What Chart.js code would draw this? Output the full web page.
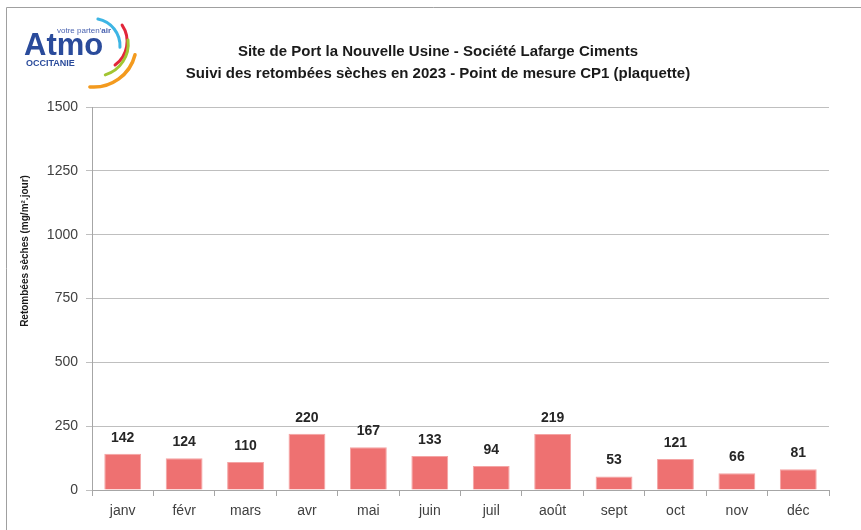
<!DOCTYPE html>
<html>
<head>
<meta charset="utf-8">
<script src="https://cdn.jsdelivr.net/npm/chart.js@4/dist/chart.umd.min.js"></script>
<style>
  html, body { margin: 0; padding: 0; background: #fff; }
  #wrap { width: 861px; height: 530px; }
</style>
</head>
<body>
<div id="wrap"><canvas id="chart"></canvas></div>
<script>
const months = ["janv", "févr", "mars", "avr", "mai", "juin", "juil", "août", "sept", "oct", "nov", "déc"];
const retombees = [142, 124, 110, 220, 167, 133, 94, 219, 53, 121, 66, 81];
const yTicks = [0, 250, 500, 750, 1000, 1250, 1500];
const titleLines = ["Site de Port la Nouvelle Usine - Société Lafarge Ciments",
                    "Suivi des retombées sèches en 2023 - Point de mesure CP1 (plaquette)"];
const yTitle = "Retombées sèches (mg/m².jour)";

const FONT = "'Liberation Sans', Arial, sans-serif";

// frame, logo, titles and value labels
const decorPlugin = {
  id: "decor",
  beforeDraw(chart) {
    const ctx = chart.ctx;
    ctx.save();
    ctx.strokeStyle = "#a0a0a0";
    ctx.lineWidth = 1;
    ctx.beginPath();
    ctx.moveTo(6.5, 530);
    ctx.lineTo(6.5, 7.5);
    ctx.lineTo(861, 7.5);
    ctx.stroke();
    ctx.restore();
  },
  afterDraw(chart) {
    const ctx = chart.ctx;
    ctx.save();

    // logo
    const arcs = [
      { c: "#3db5e4", x: 92.7, y: 45.8, r: 27.3, a0: -79, a1: 3, w: 3 },
      { c: "#e2263a", x: 97.9, y: 41.4, r: 29.2, a0: -34, a1: 54, w: 3 },
      { c: "#a2c532", x: 95.8, y: 43.9, r: 32.4, a0: -7, a1: 73, w: 3 },
      { c: "#f39a1e", x: 93.6, y: 44.4, r: 42.7, a0: 14, a1: 95, w: 3.5 }
    ];
    arcs.forEach(a => {
      ctx.beginPath();
      ctx.strokeStyle = a.c;
      ctx.lineWidth = a.w;
      ctx.lineCap = "round";
      ctx.arc(a.x, a.y, a.r, a.a0 * Math.PI / 180, a.a1 * Math.PI / 180);
      ctx.stroke();
    });
    ctx.fillStyle = "#2a4b9b";
    ctx.textAlign = "left";
    ctx.textBaseline = "alphabetic";
    ctx.font = "bold 31px " + FONT;
    ctx.fillText("Atmo", 24, 55);
    ctx.font = "bold 9px " + FONT;
    ctx.fillText("OCCITANIE", 26, 66);
    ctx.font = "8px " + FONT;
    ctx.fillStyle = "#4a63b0";
    const vp = "votre parten'";
    ctx.fillText(vp, 57, 33);
    const w = ctx.measureText(vp).width;
    ctx.font = "bold 8px " + FONT;
    ctx.fillText("air", 57 + w, 33);

    // titles
    ctx.fillStyle = "#1a1a1a";
    ctx.textAlign = "center";
    ctx.textBaseline = "middle";
    ctx.font = "bold 15px " + FONT;
    ctx.fillText(titleLines[0], 438, 52);
    ctx.fillText(titleLines[1], 438, 74);

    // y axis title
    ctx.save();
    ctx.translate(25, 251);
    ctx.rotate(-Math.PI / 2);
    ctx.font = "bold 10px " + FONT;
    ctx.fillText(yTitle, 0, 0);
    ctx.restore();

    // value labels
    const meta = chart.getDatasetMeta(0);
    ctx.font = "bold 14px " + FONT;
    ctx.fillStyle = "#262626";
    meta.data.forEach((bar, i) => {
      ctx.fillText(String(retombees[i]), bar.x, bar.y - 16);
    });
    ctx.restore();
  }
};

new Chart(document.getElementById("chart"), {
  type: "bar",
  data: {
    labels: months,
    datasets: [{
      label: "Retombées sèches",
      data: retombees,
      backgroundColor: "#ee7171",
      borderColor: "#f4a4a4",
      borderWidth: 1,
      categoryPercentage: 1,
      barPercentage: 0.6
    }]
  },
  options: {
    responsive: true,
    maintainAspectRatio: false,
    animation: false,
    layout: { padding: { left: 0, right: 32, top: 107, bottom: 0 } },
    plugins: {
      legend: { display: false },
      title: { display: false },
      tooltip: { enabled: false }
    },
    scales: {
      x: {
        offset: true,
        afterFit: s => { s.height = 40; },
        grid: { offset: true, drawOnChartArea: false, tickLength: 6, color: "#a6a6a6" },
        border: { color: "#a6a6a6" },
        ticks: { color: "#404040", font: { family: FONT, size: 14 }, padding: 7 }
      },
      y: {
        min: 0,
        max: 1500,
        afterFit: s => { s.width = 92; },
        afterBuildTicks: s => { s.ticks = yTicks.map(v => ({ value: v })); },
        grid: { color: "#bfbfbf", tickLength: 6 },
        border: { color: "#a6a6a6" },
        ticks: {
          color: "#404040",
          font: { family: FONT, size: 14 },
          padding: 8,
          callback: v => String(v)
        }
      }
    }
  },
  plugins: [decorPlugin]
});
</script>
</body>
</html>
